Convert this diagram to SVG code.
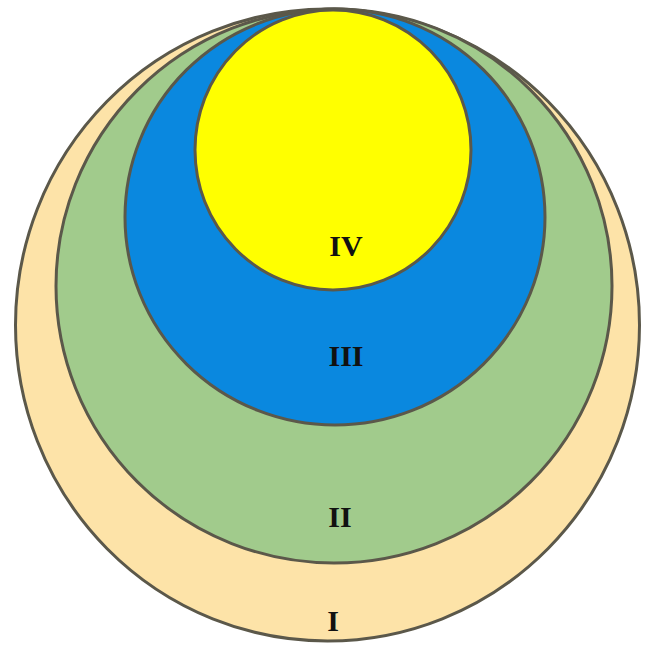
<svg xmlns="http://www.w3.org/2000/svg" width="652" height="647" viewBox="0 0 652 647">
<style>
.ring{stroke:#5b584a;stroke-width:3}
.lbl{font-family:"Liberation Serif",serif;font-weight:bold;font-size:30px;fill:#111;text-anchor:middle}
</style>
<rect width="652" height="647" fill="#fff"/>
<g id="I"><ellipse class="ring" cx="327.5" cy="325" rx="312" ry="316" fill="#fde3a8"/><text class="lbl" x="333" y="631">I</text></g>
<g id="II"><ellipse class="ring" cx="334" cy="286" rx="278" ry="277" fill="#a1cb8c"/><text class="lbl" x="340" y="527">II</text></g>
<g id="III"><ellipse class="ring" cx="335" cy="217" rx="210" ry="208" fill="#0a88df"/><text class="lbl" x="346" y="366">III</text></g>
<g id="IV"><ellipse class="ring" cx="333" cy="150" rx="138" ry="140" fill="#ffff00" stroke="#24421a"/><text class="lbl" x="346" y="256">IV</text></g>
<g id="connectors"/>
</svg>
